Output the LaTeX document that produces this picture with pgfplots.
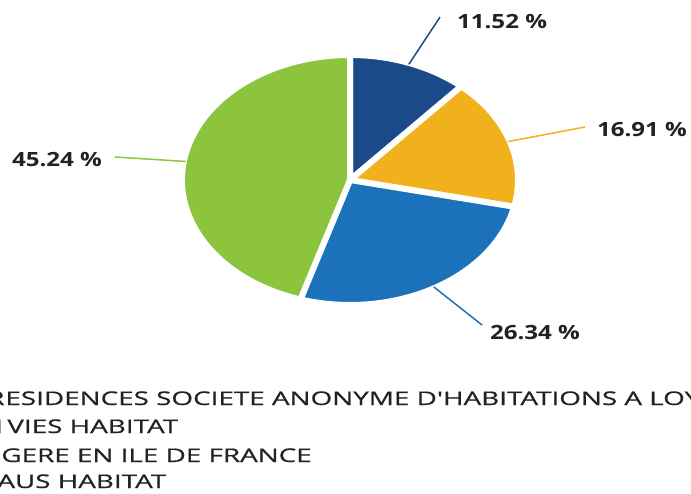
\documentclass[border=0pt]{standalone}
\usepackage{pgfplots}
\pgfplotsset{compat=1.18}
\usepackage{pgfplotstable}
\usepackage{fontspec}
\setmainfont{Open Sans}
\newfontfamily\legfont{Open Sans}[FakeStretch=1.48, FakeBold=0.7]
\newfontfamily\lblfont{Open Sans}[FakeStretch=1.23]

\definecolor{cnavy}{HTML}{1B4A8A}
\definecolor{cyel}{HTML}{F0B11D}
\definecolor{cblue}{HTML}{1C72BA}
\definecolor{cgreen}{HTML}{8DC43E}
\definecolor{ctext}{HTML}{222222}

% share (%), colour, end of leader line, centre of label (axis units)
\pgfplotstableread{
pct   col     lx      ly      tx      ty
11.52 cnavy   0.536   1.304   0.905   1.264
16.91 cyel    1.399   0.424   1.738   0.400
26.34 cblue   0.786  -1.160   1.101  -1.224
45.24 cgreen -1.399   0.184  -1.744   0.160
}\piedata

% angles of each slice, clockwise from 12 o'clock
\def\cum{0}
\pgfplotsforeachungrouped \i in {0,...,3}{%
  \pgfplotstablegetelem{\i}{pct}\of\piedata\let\p\pgfplotsretval
  \pgfmathsetmacro\sa{90-3.6*\cum}%
  \pgfmathsetmacro\cum{\cum+\p}%
  \pgfmathsetmacro\ea{90-3.6*\cum}%
  \pgfmathsetmacro\ma{(\sa+\ea)/2}%
  \expandafter\xdef\csname sa\i\endcsname{\sa}%
  \expandafter\xdef\csname ea\i\endcsname{\ea}%
  \expandafter\xdef\csname ma\i\endcsname{\ma}%
  \expandafter\xdef\csname pc\i\endcsname{\p}%
  \pgfplotstablegetelem{\i}{col}\of\piedata\colorlet{slice\i}{\pgfplotsretval}%
  \pgfplotstablegetelem{\i}{lx}\of\piedata\expandafter\xdef\csname lx\i\endcsname{\pgfplotsretval}%
  \pgfplotstablegetelem{\i}{ly}\of\piedata\expandafter\xdef\csname ly\i\endcsname{\pgfplotsretval}%
  \pgfplotstablegetelem{\i}{tx}\of\piedata\expandafter\xdef\csname tx\i\endcsname{\pgfplotsretval}%
  \pgfplotstablegetelem{\i}{ty}\of\piedata\expandafter\xdef\csname ty\i\endcsname{\pgfplotsretval}%
}

\begin{document}
\begin{tikzpicture}[x=0.5pt,y=0.5pt]
\useasboundingbox (0,0) rectangle (691,493);
\clip (0,0) rectangle (691,493);
\begin{axis}[
    at={(175pt,156.5pt)}, anchor=center,
    scale only axis, width=168pt, height=125pt,
    xmin=-1, xmax=1, ymin=-1, ymax=1,
    hide axis, clip=false
]
\pgfplotsinvokeforeach{0,...,3}{
  \fill[fill=slice#1, draw=white, line width=3pt, line join=round]
    (axis cs:0,0) -- (axis cs:{cos(\csname sa#1\endcsname)},{sin(\csname sa#1\endcsname)})
    arc[start angle=\csname sa#1\endcsname, end angle=\csname ea#1\endcsname, radius=1] -- cycle;
  \draw[slice#1, line width=0.75pt]
    (axis cs:{0.99*cos(\csname ma#1\endcsname)},{0.99*sin(\csname ma#1\endcsname)})
    -- (axis cs:\csname lx#1\endcsname,\csname ly#1\endcsname);
  \node[text=ctext, font=\lblfont\bfseries\fontsize{9.8}{12}\selectfont, inner sep=0pt]
    at (axis cs:\csname tx#1\endcsname,\csname ty#1\endcsname) {\csname pc#1\endcsname\ \%};
}
\end{axis}
\begin{scope}[every node/.style={inner sep=0pt, text=ctext, font=\legfont\fontsize{9.4}{11}\selectfont}]
  \node[anchor=base east] at (5,88) {R};
  \node[anchor=base west] at (5,88) {ESIDENCES SOCIETE ANONYME D'HABITATIONS A LOYER MODERE};
  \node[anchor=base east] at (7,60) {1001\ };
  \node[anchor=base west] at (7,60) {VIES HABITAT};
  \node[anchor=base west] at (1,31) {GERE EN ILE DE FRANCE};
  \node[anchor=base east] at (-3,5) {EMM};
  \node[anchor=base west] at (-3,5) {AUS HABITAT};
\end{scope}
\end{tikzpicture}
\end{document}
